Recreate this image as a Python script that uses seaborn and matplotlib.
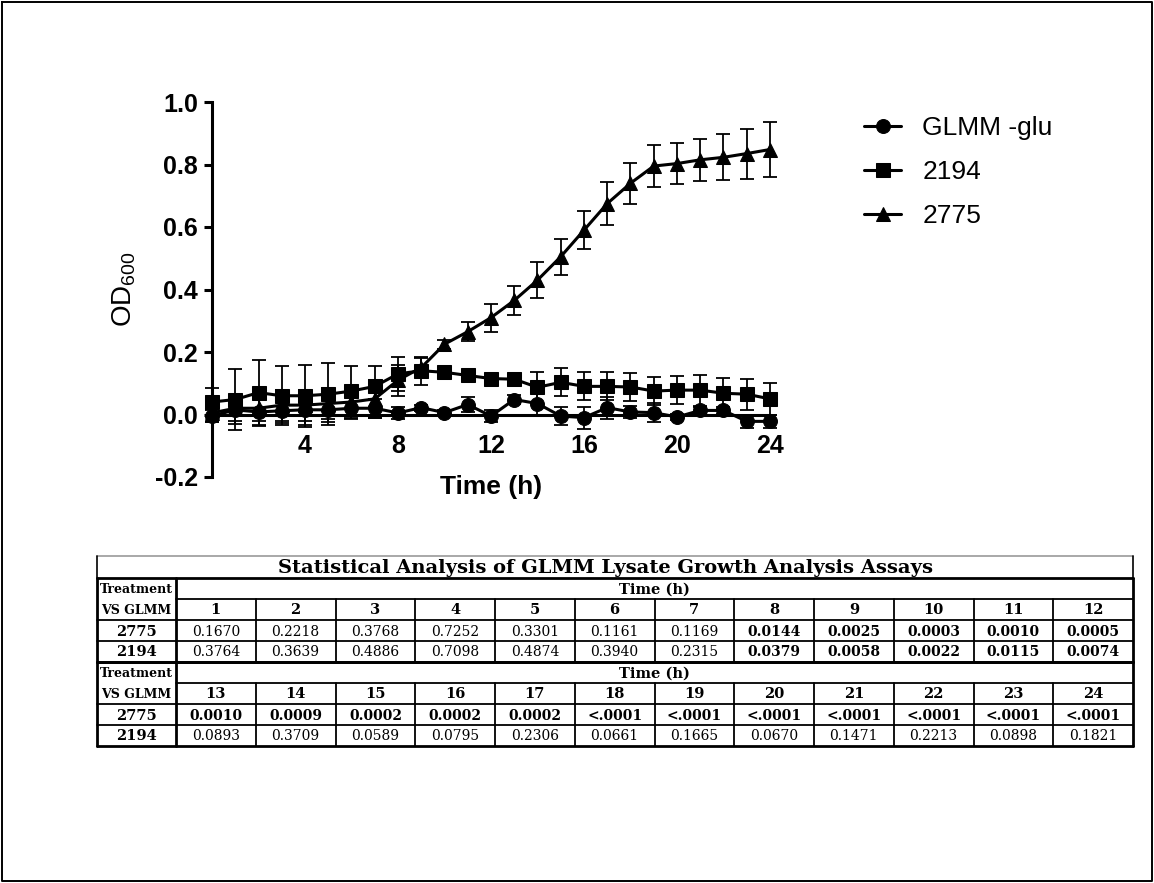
import numpy as np
import pandas as pd
import seaborn as sns
import matplotlib.pyplot as plt
import matplotlib as mpl

sns.set_style("white")
mpl.rcParams["font.family"] = ["Liberation Sans", "DejaVu Sans"]
mpl.rcParams["axes.unicode_minus"] = False
mpl.rcParams["mathtext.default"] = "regular"
mpl.rcParams["text.color"] = "black"
mpl.rcParams["axes.labelcolor"] = "black"
mpl.rcParams["xtick.color"] = "black"
mpl.rcParams["ytick.color"] = "black"

# growth curves (OD600, mean and sd per hour)
hours = list(range(0, 25))
glu_mean = [-0.005, 0.015, 0.008, 0.012, 0.015, 0.015, 0.02, 0.02, 0.005, 0.022, 0.006, 0.032, -0.005,
            0.048, 0.035, -0.005, -0.01, 0.022, 0.008, 0.006, -0.008, 0.013, 0.013, -0.022, -0.022]
glu_sd = [0.02, 0.045, 0.045, 0.04, 0.05, 0.04, 0.035, 0.03, 0.02, 0.01, 0.01, 0.025, 0.02,
          0.015, 0.04, 0.03, 0.035, 0.035, 0.02, 0.03, 0.01, 0.01, 0.01, 0.02, 0.02]
s2194_mean = [0.04, 0.048, 0.07, 0.06, 0.06, 0.065, 0.075, 0.09, 0.13, 0.14, 0.135, 0.125, 0.115,
              0.113, 0.087, 0.103, 0.09, 0.09, 0.088, 0.075, 0.078, 0.078, 0.068, 0.065, 0.05]
s2194_sd = [0.045, 0.097, 0.105, 0.095, 0.1, 0.1, 0.08, 0.065, 0.055, 0.045, 0.01, 0.01, 0.01,
            0.01, 0.05, 0.045, 0.045, 0.045, 0.045, 0.045, 0.045, 0.05, 0.05, 0.05, 0.05]
s2775_mean = [0.005, 0.02, 0.02, 0.03, 0.03, 0.035, 0.04, 0.05, 0.11, 0.15, 0.225, 0.265, 0.31,
              0.365, 0.43, 0.505, 0.59, 0.675, 0.74, 0.795, 0.803, 0.815, 0.823, 0.835, 0.848]
s2775_sd = [0.03, 0.04, 0.04, 0.05, 0.05, 0.05, 0.05, 0.06, 0.05, 0.03, 0.015, 0.03, 0.045,
            0.047, 0.058, 0.058, 0.06, 0.07, 0.065, 0.068, 0.065, 0.068, 0.074, 0.08, 0.087]

groups = ["GLMM -glu", "2194", "2775"]
means = {"GLMM -glu": glu_mean, "2194": s2194_mean, "2775": s2775_mean}
sds = {"GLMM -glu": glu_sd, "2194": s2194_sd, "2775": s2775_sd}

# p-value table
table_title = "Statistical Analysis of GLMM Lysate Growth Analysis Assays"
times_a = [str(t) for t in range(1, 13)]
times_b = [str(t) for t in range(13, 25)]
p2775_a = ["0.1670", "0.2218", "0.3768", "0.7252", "0.3301", "0.1161", "0.1169", "0.0144", "0.0025", "0.0003", "0.0010", "0.0005"]
p2194_a = ["0.3764", "0.3639", "0.4886", "0.7098", "0.4874", "0.3940", "0.2315", "0.0379", "0.0058", "0.0022", "0.0115", "0.0074"]
p2775_b = ["0.0010", "0.0009", "0.0002", "0.0002", "0.0002", "<.0001", "<.0001", "<.0001", "<.0001", "<.0001", "<.0001", "<.0001"]
p2194_b = ["0.0893", "0.3709", "0.0589", "0.0795", "0.2306", "0.0661", "0.1665", "0.0670", "0.1471", "0.2213", "0.0898", "0.1821"]

rows = []
for g in groups:
    for h, m in zip(hours, means[g]):
        rows.append({"Time": h, "OD": m, "Group": g})
df = pd.DataFrame(rows)

W, H = 1154, 883
fig = plt.figure(figsize=(W / 100, H / 100), dpi=100)
ax = fig.add_axes([212 / W, (H - 477) / H, (770 - 212) / W, (477 - 102) / H])

for g in groups:
    ax.errorbar(hours, means[g], yerr=sds[g], fmt="none", ecolor="black",
                elinewidth=1.3, capsize=5, capthick=1.3, clip_on=False, zorder=2)

sns.lineplot(data=df, x="Time", y="OD", hue="Group", style="Group",
             hue_order=groups, style_order=groups,
             palette={g: "black" for g in groups},
             markers={"GLMM -glu": "o", "2194": "s", "2775": "^"},
             dashes=False, linewidth=2.2, markersize=10, markeredgecolor="black",
             errorbar=None, ax=ax, clip_on=False, zorder=3)

ax.set_xlim(0, 24)
ax.set_ylim(-0.2, 1.0)
ax.set_xticks([4, 8, 12, 16, 20, 24])
ax.set_yticks(np.arange(-0.2, 1.01, 0.2))
ax.set_yticklabels([f"{v:.1f}" for v in np.arange(-0.2, 1.01, 0.2)])
for s in ["top", "right"]:
    ax.spines[s].set_visible(False)
ax.spines["bottom"].set_position(("data", 0))
ax.spines["left"].set_linewidth(2.2)
ax.spines["bottom"].set_linewidth(2.2)
ax.spines["left"].set_color("black")
ax.spines["bottom"].set_color("black")
ax.tick_params(axis="y", direction="out", length=6, width=2.2, labelsize=18, pad=4, left=True)
ax.tick_params(axis="x", direction="out", length=0, width=2.2, labelsize=18, pad=14, bottom=True)
for lab in ax.get_xticklabels() + ax.get_yticklabels():
    lab.set_fontweight("bold")
ax.set_xlabel("Time (h)", fontsize=19, fontweight="bold", labelpad=12)
ax.set_ylabel("OD$_{600}$", fontsize=20, labelpad=12)
ax.patch.set_alpha(0)

handles, labels = ax.get_legend_handles_labels()
ax.legend(handles, labels, loc="upper left", bbox_to_anchor=(851 / W, 1 - 103 / H),
          bbox_transform=fig.transFigure, frameon=False, fontsize=19,
          handlelength=1.4, handletextpad=0.8, labelspacing=0.75, borderpad=0)

# table + frame drawn in pixel space
tx = fig.add_axes([0, 0, 1, 1], zorder=-1)
tx.set_xlim(0, W)
tx.set_ylim(H, 0)
tx.axis("off")

tx.plot([2, W - 2, W - 2, 2, 2], [2, 2, H - 2, H - 2, 2], color="black", lw=1.4)

x0, x1, x2 = 97, 176, 1133
col_w = (x2 - x1) / 12
y_title = 556
y_top = 578
row_h = 21
serif = "DejaVu Serif"
fs = 10

tx.plot([x0, x2], [y_title, y_title], color="#9a9a9a", lw=1.2)
tx.plot([x0, x0], [y_title, y_top], color="black", lw=1.2)
tx.plot([x2, x2], [y_title, y_top], color="black", lw=1.2)
tx.text(606, (y_title + y_top) / 2 + 1, table_title, family=serif, fontsize=14,
        fontweight="bold", ha="center", va="center")


def sig(p):
    return p.startswith("<") or float(p) < 0.05


blocks = [(times_a, p2775_a, p2194_a), (times_b, p2775_b, p2194_b)]
for b, (times, pa, pb) in enumerate(blocks):
    yb = y_top + b * 4 * row_h
    ys = [yb + k * row_h for k in range(5)]
    tx.plot([x0, x2], [ys[0], ys[0]], color="black", lw=2.0)
    tx.plot([x1, x2], [ys[1], ys[1]], color="black", lw=1.3)
    for k in (2, 3):
        tx.plot([x0, x2], [ys[k], ys[k]], color="black", lw=1.3)
    tx.plot([x0, x2], [ys[4], ys[4]], color="black", lw=2.0)
    tx.plot([x0, x0], [ys[0], ys[4]], color="black", lw=2.0)
    tx.plot([x2, x2], [ys[0], ys[4]], color="black", lw=2.0)
    tx.plot([x1, x1], [ys[0], ys[4]], color="black", lw=2.0)
    for c in range(1, 12):
        xc = x1 + c * col_w
        tx.plot([xc, xc], [ys[1], ys[4]], color="black", lw=1.3)
    xm = (x0 + x1) / 2
    for k, txt in enumerate(["Treatment", "VS GLMM", "2775", "2194"]):
        tx.text(xm, (ys[k] + ys[k + 1]) / 2 + 1, txt, family=serif, fontsize=9.0 if k < 2 else 10.5,
                fontweight="bold", ha="center", va="center")
    tx.text((x1 + x2) / 2, (ys[0] + ys[1]) / 2 + 1, "Time (h)", family=serif, fontsize=10.5,
            fontweight="bold", ha="center", va="center")
    for c in range(12):
        xc = x1 + (c + 0.5) * col_w
        tx.text(xc, (ys[1] + ys[2]) / 2 + 1, times[c], family=serif, fontsize=10.5,
                fontweight="bold", ha="center", va="center")
        for k, p in ((2, pa[c]), (3, pb[c])):
            tx.text(xc, (ys[k] + ys[k + 1]) / 2 + 1, p, family=serif, fontsize=fs,
                    fontweight="bold" if sig(p) else "normal", ha="center", va="center")

fig.savefig("out.png", dpi=100)
